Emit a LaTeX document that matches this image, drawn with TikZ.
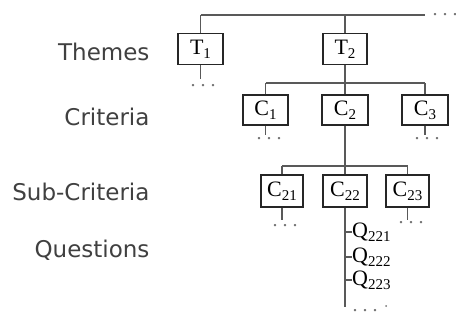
\documentclass[tikz,border=0pt]{standalone}
\usepackage{fontspec}
\setmainfont{Liberation Serif}
\newfontfamily\lblfont{DejaVu Sans}
\newcommand{\mysub}[1]{\raisebox{-4pt}{\fontsize{15}{15}\selectfont #1}}
\begin{document}
\begin{tikzpicture}[x=1pt,y=-1pt,
  box/.style={draw=black!85,line width=1.3pt,inner sep=0pt,minimum height=31pt,
    font=\fontsize{22}{22}\selectfont},
  link/.style={draw=black!65,line width=1.6pt},
  lvl/.style={anchor=base east,font=\lblfont\fontsize{23}{23}\selectfont,text=black!75},
  etc/.style={font=\fontsize{20}{20}\selectfont,text=black!55,inner sep=0pt},
  qlbl/.style={anchor=west,inner sep=0pt,font=\fontsize{22}{22}\selectfont}]
\useasboundingbox (0,0) rectangle (456,324);
% level labels
\node[lvl] (lt) at (153,60) {Themes};
\node[lvl] (lc) at (153,125) {Criteria};
\node[lvl] (ls) at (153,200) {Sub-Criteria};
\node[lvl] (lq) at (153,257) {Questions};
% boxes
\node[box,minimum width=45pt] (T1) at (200.5,49) {T\mysub{1}};
\node[box,minimum width=44pt] (T2) at (345,49) {T\mysub{2}};
\node[box,minimum width=45pt,minimum height=30pt] (C1) at (265.5,110) {C\mysub{1}};
\node[box,minimum width=46pt,minimum height=30pt] (C2) at (345,110) {C\mysub{2}};
\node[box,minimum width=46pt,minimum height=30pt] (C3) at (425,110) {C\mysub{3}};
\node[box,minimum width=42pt,minimum height=32pt] (C21) at (282,191) {C\mysub{21}};
\node[box,minimum width=44pt,minimum height=32pt] (C22) at (345,191) {C\mysub{22}};
\node[box,minimum width=43pt,minimum height=32pt] (C23) at (407.5,191) {C\mysub{23}};
% bars
\coordinate (tb1) at (200.5,15); \coordinate (tb2) at (425,15);
\coordinate (cb1) at (265.5,83); \coordinate (cb2) at (425,83);
\coordinate (sb1) at (282,166); \coordinate (sb2) at (407.5,166);
\draw[link] (tb1) -- (tb2);
\draw[link] (cb1) -- (cb2);
\draw[link] (sb1) -- (sb2);
\draw[link] (T1.north) -- (T1.north |- tb1);
\draw[link] (T2.north) -- (T2.north |- tb1);
\draw[link] (T2.south) -- (T2.south |- cb1);
\draw[link] (C1.north) -- (C1.north |- cb1);
\draw[link] (C2.north) -- (C2.north |- cb1);
\draw[link] (C3.north) -- (C3.north |- cb1);
\draw[link] (C2.south) -- (C2.south |- sb1);
\draw[link] (C21.north) -- (C21.north |- sb1);
\draw[link] (C22.north) -- (C22.north |- sb1);
\draw[link] (C23.north) -- (C23.north |- sb1);
% stubs
\coordinate (s1) at (200.5,79); \draw[link] (T1.south) -- (s1);
\coordinate (s2) at (265.5,135); \draw[link] (C1.south) -- (s2);
\coordinate (s3) at (425,135); \draw[link] (C3.south) -- (s3);
\coordinate (s4) at (282,220); \draw[link] (C21.south) -- (s4);
\coordinate (s5) at (407.5,220); \draw[link] (C23.south) -- (s5);
% questions
\coordinate (qend) at (345,307);
\draw[link] (C22.south) -- (qend);
\coordinate (k1) at (345,232); \coordinate (k2) at (345,257); \coordinate (k3) at (345,280);
\node[qlbl] (Q1) at (352,232) {Q\mysub{221}};
\node[qlbl] (Q2) at (352,257) {Q\mysub{222}};
\node[qlbl] (Q3) at (352,280) {Q\mysub{223}};
\draw[link] (k1) -- (Q1.west);
\draw[link] (k2) -- (Q2.west);
\draw[link] (k3) -- (Q3.west);
% ellipses
\node[etc] (d0) at (445,15) {.\ .\ .};
\node[etc] (d1) at (203,86) {.\ .\ .};
\node[etc] (d2) at (269,139) {.\ .\ .};
\node[etc] (d3) at (427,139) {.\ .\ .};
\node[etc] (d4) at (285,226) {.\ .\ .};
\node[etc] (d5) at (411,223) {.\ .\ .};
\node[etc] (d6) at (365,311) {.\ .\ .};
\fill[black!55] (386,306) circle (1pt);
\end{tikzpicture}
\end{document}
